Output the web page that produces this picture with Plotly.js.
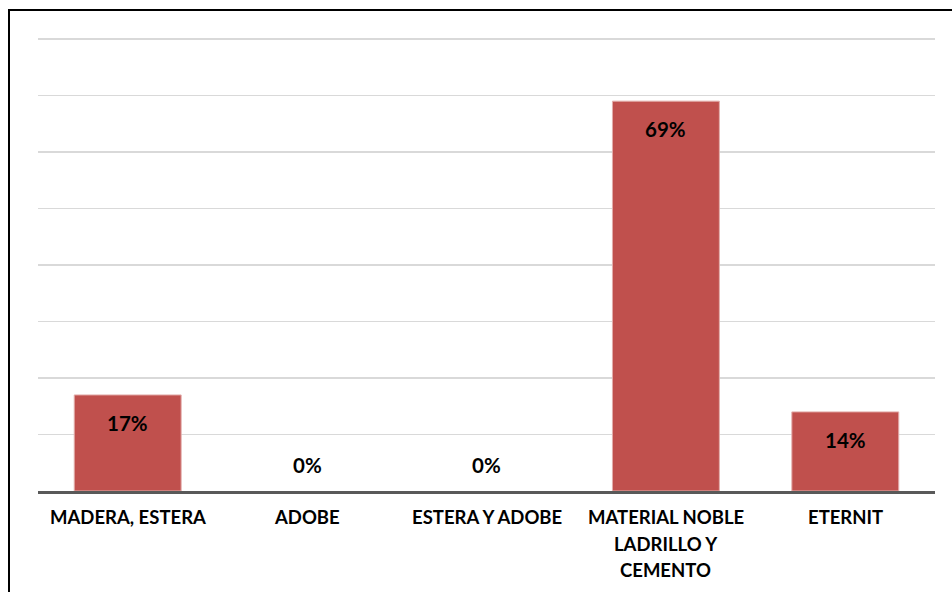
<!DOCTYPE html>
<html>
<head>
<meta charset="utf-8">
<script src="https://cdn.plot.ly/plotly-3.0.1.min.js"></script>
<style>
  html, body { margin: 0; padding: 0; background: #ffffff; }
  #chart { width: 952px; height: 592px; }
</style>
</head>
<body>
<div id="chart"></div>
<script>
// Wall material of the dwellings, share of households (%)
const categories = ['MADERA, ESTERA', 'ADOBE', 'ESTERA Y ADOBE', 'MATERIAL NOBLE LADRILLO Y CEMENTO', 'ETERNIT'];
const values = [17, 0, 0, 69, 14];
const valueLabels = ['17%', '0%', '0%', '69%', '14%'];
const tickLabelLines = [
  ['MADERA, ESTERA'],
  ['ADOBE'],
  ['ESTERA Y ADOBE'],
  ['MATERIAL NOBLE', 'LADRILLO Y', 'CEMENTO'],
  ['ETERNIT']
];
const yMax = 80;   // top gridline
const yStep = 10;

const W = 952, H = 592;
const M = { l: 38, r: 17, t: 36, b: 101 };
const plotW = W - M.l - M.r;
const plotH = H - M.t - M.b;
// leave a few pixels above the top gridline so it is drawn
const pxPerUnit = (plotH - 3) / yMax;
const yTop = plotH / pxPerUnit;
const FONT = 'Lato, "Open Sans", sans-serif';

const annotations = [];

// value labels: inside the top of each bar, just above the axis for empty bars
categories.forEach((c, i) => {
  annotations.push({
    x: c, y: values[i], xref: 'x', yref: 'y',
    text: valueLabels[i], showarrow: false,
    xanchor: 'center', yanchor: 'middle',
    yshift: values[i] > 0 ? -28 : 26,
    font: { family: FONT, size: 20.5, color: '#000000', weight: 700 }
  });
});

// category labels, one annotation per line for the wider line spacing
categories.forEach((c, i) => {
  tickLabelLines[i].forEach((line, j) => {
    annotations.push({
      x: c, y: 0, xref: 'x', yref: 'paper',
      text: line, showarrow: false,
      xanchor: 'center', yanchor: 'middle',
      yshift: -(26 + 26.7 * j),
      font: { family: FONT, size: 18.5, color: '#000000', weight: 700 }
    });
  });
});

// outer frame around the chart
const px2x = p => (p - M.l) / plotW;
const px2y = p => (H - M.b - p) / plotH;
const shapes = [{
  type: 'rect', xref: 'paper', yref: 'paper',
  x0: px2x(9), x1: px2x(W + 10), y0: px2y(H + 10), y1: px2y(10),
  line: { color: '#000000', width: 2 }, fillcolor: 'rgba(0,0,0,0)', layer: 'above'
}];

const trace = {
  type: 'bar',
  x: categories,
  y: values,
  marker: {
    color: '#C0504D',
    line: { color: '#E3AEAC', width: values.map(v => (v > 0 ? 1 : 0)) }
  },
  hoverinfo: 'none'
};

const layout = {
  width: W, height: H,
  margin: M,
  paper_bgcolor: '#ffffff',
  plot_bgcolor: '#ffffff',
  showlegend: false,
  bargap: 0.404,
  xaxis: {
    type: 'category',
    showticklabels: false,
    showgrid: false,
    zeroline: false,
    showline: true, linecolor: '#595959', linewidth: 3,
    ticks: ''
  },
  yaxis: {
    range: [0, yTop],
    tick0: 0,
    dtick: yStep,
    showticklabels: false,
    showgrid: true, gridcolor: '#D9D9D9', gridwidth: 1.5,
    zeroline: false,
    showline: false,
    ticks: ''
  },
  annotations: annotations,
  shapes: shapes
};

Plotly.newPlot('chart', [trace], layout, { displayModeBar: false, staticPlot: true });
</script>
</body>
</html>
